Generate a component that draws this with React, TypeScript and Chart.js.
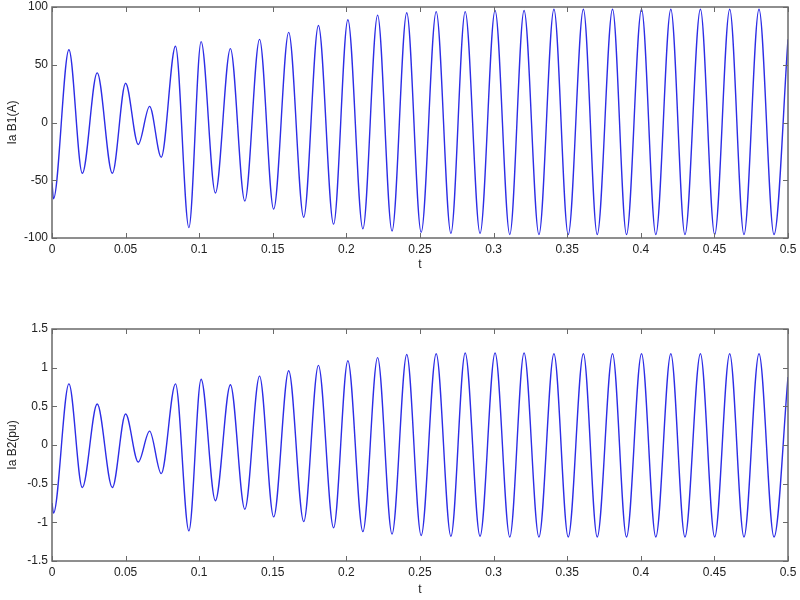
import React, { useEffect, useRef } from 'react';
import { Chart, registerables } from 'chart.js';

Chart.register(...registerables);

// Times of the extrema (peaks / troughs) of the current waveform
const tExt = [
  0, 0.001, 0.0115, 0.0206, 0.0307, 0.041, 0.05, 0.0586, 0.0663, 0.0742,
  0.0839, 0.093, 0.1013, 0.111, 0.1212, 0.131, 0.141, 0.1506, 0.1608, 0.171,
  0.181, 0.1913, 0.201, 0.2112, 0.2212, 0.231, 0.241, 0.2508, 0.261, 0.271,
  0.2807, 0.2908, 0.301, 0.311, 0.3207, 0.3308, 0.341, 0.3507, 0.361, 0.3704,
  0.3808, 0.3903, 0.4005, 0.4102, 0.4204, 0.43, 0.4405, 0.4502, 0.4604, 0.4701,
  0.4803, 0.4905, 0.5,
];

// Ia B1 (A) at those times
const iaB1 = [
  -52, -66, 63, -44, 43, -44, 34, -19, 14, -30,
  66, -91, 70, -61, 64, -68, 72, -75, 78, -82,
  84, -88, 89, -92, 93, -94, 95, -95, 96, -96,
  96, -96, 97, -97, 97, -97, 98, -97, 98, -97,
  98, -97, 98, -97, 98, -97, 98, -97, 98, -97,
  98, -97, 72,
];

// Ia B2 (pu) at those times
const iaB2 = [
  -0.75, -0.88, 0.79, -0.55, 0.53, -0.55, 0.4, -0.22, 0.18, -0.37,
  0.79, -1.11, 0.85, -0.72, 0.78, -0.83, 0.89, -0.93, 0.96, -0.99,
  1.03, -1.07, 1.09, -1.12, 1.13, -1.15, 1.17, -1.17, 1.18, -1.18,
  1.19, -1.18, 1.19, -1.19, 1.19, -1.19, 1.18, -1.19, 1.18, -1.19,
  1.18, -1.19, 1.18, -1.19, 1.18, -1.19, 1.18, -1.19, 1.18, -1.19,
  1.18, -1.19, 0.88,
];

const xTicks = [0, 0.05, 0.1, 0.15, 0.2, 0.25, 0.3, 0.35, 0.4, 0.45, 0.5];
const yTicksB1 = [-100, -50, 0, 50, 100];
const yTicksB2 = [-1.5, -1, -0.5, 0, 0.5, 1, 1.5];
const xTitle = 't';
const yTitleB1 = 'Ia B1(A)';
const yTitleB2 = 'Ia B2(pu)';

const FONT = "'Liberation Sans', Arial, sans-serif";
const TEXT = '#222';

const boxPlugin = {
  id: 'matlabBox',
  afterDraw(chart: any) {
    const { ctx, chartArea: a } = chart;
    const xs = chart.scales.x;
    const ys = chart.scales.y;
    const L = 5;
    ctx.save();
    ctx.strokeStyle = '#6a6a6a';
    ctx.lineWidth = 1;
    ctx.beginPath();
    xs.ticks.forEach((t: any) => {
      const px = Math.round(xs.getPixelForValue(t.value)) + 0.5;
      ctx.moveTo(px, a.bottom);
      ctx.lineTo(px, a.bottom - L);
      ctx.moveTo(px, a.top);
      ctx.lineTo(px, a.top + L);
    });
    ys.ticks.forEach((t: any) => {
      const py = Math.round(ys.getPixelForValue(t.value)) + 0.5;
      ctx.moveTo(a.left, py);
      ctx.lineTo(a.left + L, py);
      ctx.moveTo(a.right, py);
      ctx.lineTo(a.right - L, py);
    });
    ctx.stroke();
    ctx.lineWidth = 1.5;
    ctx.strokeRect(
      Math.round(a.left),
      Math.round(a.top),
      Math.round(a.right - a.left),
      Math.round(a.bottom - a.top)
    );
    ctx.restore();
  },
};

function makeConfig(
  values: number[],
  yMin: number,
  yMax: number,
  yTicks: number[],
  yTitle: string,
  padTop: number,
  xAxisHeight: number,
  xTitlePadBottom: number
): any {
  return {
    type: 'line',
    data: {
      datasets: [
        {
          data: tExt.map((t, i) => ({ x: t, y: values[i] })),
          borderColor: 'rgb(45,45,230)',
          borderWidth: 1.4,
          pointRadius: 0,
          cubicInterpolationMode: 'monotone',
          fill: false,
        },
      ],
    },
    options: {
      responsive: false,
      animation: false,
      devicePixelRatio: 1,
      layout: { padding: { top: padTop, right: 12, left: 0, bottom: 0 } },
      plugins: { legend: { display: false }, tooltip: { enabled: false } },
      scales: {
        x: {
          type: 'linear',
          min: 0,
          max: 0.5,
          afterBuildTicks: (s: any) => {
            s.ticks = xTicks.map((v) => ({ value: v }));
          },
          afterFit: (s: any) => {
            s.height = xAxisHeight;
            s.paddingLeft = 0;
            s.paddingRight = 0;
          },
          grid: { display: false, drawTicks: false },
          border: { display: false },
          ticks: {
            autoSkip: false,
            maxRotation: 0,
            padding: 4,
            color: TEXT,
            font: { family: FONT, size: 12 },
            callback: (v: any) => String(+Number(v).toFixed(2)),
          },
          title: {
            display: true,
            text: xTitle,
            color: TEXT,
            font: { family: FONT, size: 12 },
            padding: { top: 0, bottom: xTitlePadBottom },
          },
        },
        y: {
          type: 'linear',
          min: yMin,
          max: yMax,
          afterBuildTicks: (s: any) => {
            s.ticks = yTicks.map((v) => ({ value: v }));
          },
          afterFit: (s: any) => {
            s.width = 52;
            s.paddingTop = 0;
            s.paddingBottom = 0;
          },
          grid: { display: false, drawTicks: false },
          border: { display: false },
          ticks: {
            autoSkip: false,
            padding: 4,
            color: TEXT,
            font: { family: FONT, size: 12 },
            callback: (v: any) => String(+Number(v).toFixed(2)),
          },
          title: {
            display: true,
            text: yTitle,
            color: TEXT,
            font: { family: FONT, size: 12 },
            padding: { top: 5, bottom: 0 },
          },
        },
      },
    },
    plugins: [boxPlugin],
  };
}

export default function App() {
  const topRef = useRef<HTMLCanvasElement>(null);
  const botRef = useRef<HTMLCanvasElement>(null);

  useEffect(() => {
    const c1 = new Chart(
      topRef.current as HTMLCanvasElement,
      makeConfig(iaB1, -100, 100, yTicksB1, yTitleB1, 7, 52, 18)
    );
    const c2 = new Chart(
      botRef.current as HTMLCanvasElement,
      makeConfig(iaB2, -1.5, 1.5, yTicksB2, yTitleB2, 29, 39, 3)
    );
    return () => {
      c1.destroy();
      c2.destroy();
    };
  }, []);

  return (
    <div
      style={{
        position: 'absolute',
        left: 0,
        top: 0,
        width: 800,
        height: 600,
        background: '#fff',
      }}
    >
      <canvas
        ref={topRef}
        width={800}
        height={290}
        style={{ position: 'absolute', left: 0, top: 0, width: 800, height: 290 }}
      />
      <canvas
        ref={botRef}
        width={800}
        height={300}
        style={{ position: 'absolute', left: 0, top: 300, width: 800, height: 300 }}
      />
    </div>
  );
}
